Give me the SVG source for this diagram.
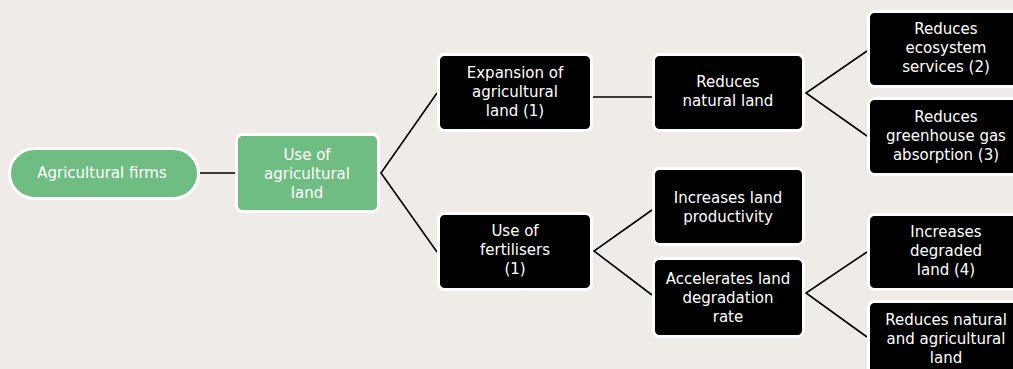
<svg xmlns="http://www.w3.org/2000/svg" width="1013" height="369" viewBox="0 0 1013 369">
<defs>
<style>
.bg{fill:#efece7}
.g{fill:#6fbd82;stroke:#ffffff;stroke-width:3}
.k{fill:#000000;stroke:#ffffff;stroke-width:3}
.t{fill:#ffffff;font-family:"DejaVu Sans","Liberation Sans",sans-serif;font-size:15px;text-anchor:middle}
.c{stroke:#000000;stroke-width:1.6;fill:none}
</style>
</defs>
<rect class="bg" x="0" y="0" width="1013" height="369"/>
<g id="connectors">
<line class="c" x1="200" y1="173" x2="236" y2="173"/>
<polyline class="c" points="437,93 381,173 437,252"/>
<line class="c" x1="593" y1="97" x2="652" y2="97"/>
<polyline class="c" points="652,210 594,251 652,295"/>
<polyline class="c" points="867,51 806,93 867,136"/>
<polyline class="c" points="867,252 806,293 867,337"/>
</g>
<g id="n-firms">
<rect class="g" x="9.5" y="148.5" width="189" height="50" rx="25"/>
<text class="t" x="102" y="178">Agricultural firms</text>
</g>
<g id="n-use-land">
<rect class="g" x="236.5" y="134.5" width="142" height="77" rx="6"/>
<text class="t" x="307" y="160">Use of</text>
<text class="t" x="307" y="179">agricultural</text>
<text class="t" x="307" y="198">land</text>
</g>
<g id="n-expansion">
<rect class="k" x="438.5" y="54.5" width="153" height="76" rx="6"/>
<text class="t" x="515" y="78">Expansion of</text>
<text class="t" x="515" y="97">agricultural</text>
<text class="t" x="515" y="116">land (1)</text>
</g>
<g id="n-fertilisers">
<rect class="k" x="438.5" y="213.5" width="153" height="76" rx="6"/>
<text class="t" x="515" y="236">Use of</text>
<text class="t" x="515" y="255">fertilisers</text>
<text class="t" x="515" y="274">(1)</text>
</g>
<g id="n-reduces-natural">
<rect class="k" x="653.5" y="54.5" width="150" height="76" rx="6"/>
<text class="t" x="728" y="87">Reduces</text>
<text class="t" x="728" y="106">natural land</text>
</g>
<g id="n-productivity">
<rect class="k" x="653.5" y="168.5" width="150" height="76" rx="6"/>
<text class="t" x="728" y="203">Increases land</text>
<text class="t" x="728" y="222">productivity</text>
</g>
<g id="n-degradation">
<rect class="k" x="653.5" y="258.5" width="150" height="78" rx="6"/>
<text class="t" x="728" y="284">Accelerates land</text>
<text class="t" x="728" y="303">degradation</text>
<text class="t" x="728" y="322">rate</text>
</g>
<g id="n-ecosystem">
<rect class="k" x="868.5" y="11.5" width="156" height="75" rx="6"/>
<text class="t" x="946" y="34">Reduces</text>
<text class="t" x="946" y="53">ecosystem</text>
<text class="t" x="946" y="72">services (2)</text>
</g>
<g id="n-greenhouse">
<rect class="k" x="868.5" y="98.5" width="156" height="76" rx="6"/>
<text class="t" x="946" y="122">Reduces</text>
<text class="t" x="946" y="141">greenhouse gas</text>
<text class="t" x="946" y="160">absorption (3)</text>
</g>
<g id="n-degraded">
<rect class="k" x="868.5" y="214.5" width="156" height="75" rx="6"/>
<text class="t" x="946" y="237">Increases</text>
<text class="t" x="946" y="256">degraded</text>
<text class="t" x="946" y="275">land (4)</text>
</g>
<g id="n-reduces-nat-agri">
<rect class="k" x="868.5" y="301.5" width="156" height="76" rx="6"/>
<text class="t" x="946" y="325">Reduces natural</text>
<text class="t" x="946" y="344">and agricultural</text>
<text class="t" x="946" y="363">land</text>
</g>
</svg>
